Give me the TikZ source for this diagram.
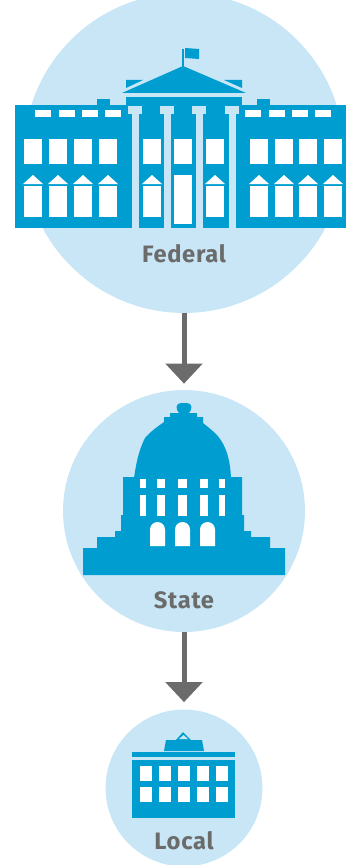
\documentclass[tikz,border=0pt]{standalone}
\usepackage{fontspec}
\setmainfont[LetterSpace=3]{Fira Sans}
\usepackage{xcolor}
\usepackage{tikz}
\usetikzlibrary{positioning, arrows.meta}
\definecolor{govBlue}{RGB}{0, 158, 208}
\definecolor{govLight}{RGB}{200, 230, 246}
\definecolor{govGray}{RGB}{107, 107, 107}
\tikzset{
    level/.style={
        circle,
        fill=govLight,
        inner sep=0pt
    },
    caption/.style={
        font=\bfseries\fontsize{13.5pt}{15pt}\selectfont,
        text=govGray,
        inner sep=0pt
    },
    flow/.style={
        -{Triangle[length=0.4cm,width=0.72cm]},
        line width=0.1cm,
        color=govGray
    },
    wall/.style={
        fill=govBlue
    },
    pane/.style={
        fill=white
    },
    pillar/.style={
        fill=govLight
    }
}
\newcommand{\winTall}[2]{% tall window with a little roof
    \fill[pane] (#1,#2) rectangle ++(18,31);
    \fill[pane] (#1-1,#2-2) -- ++(20,0) -- ++(-10,-9) -- cycle;
}
\begin{document}
\begin{tikzpicture}[x=0.02cm,y=-0.02cm]
    \useasboundingbox (0,0) rectangle (346,865);

    % Circles
    \node[level, minimum size=6.4cm] (federal) at (184,153) {};
    \node[level, minimum size=4.84cm] (state) at (184,511) {};
    \node[level, minimum size=3.14cm] (local) at (184,788) {};

    % Arrows
    \draw[flow, shorten >=0.12cm] (federal.south) -- (state.north);
    \draw[flow, shorten >=0.14cm] (state.south) -- (local.north);

    % Federal: wings
    \fill[wall] (15,105) rectangle (131,228);
    \fill[wall] (236,105) rectangle (346,228);
    \fill[wall] (97,99) rectangle (110,105);
    \fill[wall] (257,99) rectangle (270,105);
    \fill[wall] (126,97) rectangle (242,228);
    % Federal: roof and flag
    \fill[wall] (122,93) -- (183,66) -- (246,93) -- cycle;
    \fill[wall] (126,80) -- (143,80) -- (126,88) -- cycle;
    \fill[wall] (224,80) -- (242,80) -- (242,88) -- cycle;
    \fill[wall] (182,49) rectangle (184,67);
    \fill[wall] (185,48) -- (199,49) -- (199,59) -- (185,58) -- cycle;
    % Federal: columns
    \foreach \x in {128,160,192,225} {
        \fill[pillar] (\x,106) rectangle ++(14,8);
        \fill[pillar] (\x+3.5,114) rectangle ++(7,114);
    }
    % Federal: small windows
    \foreach \x in {35,59,82,105,245,269,292,315}
        \fill[pane] (\x,110) rectangle ++(16,7);
    % Federal: upper windows
    \foreach \x in {24,49,74,99,143,174,206,250,275,299,324}
        \fill[pane] (\x,139) rectangle ++(18,25);
    % Federal: lower windows
    \foreach \x in {24,49,74,99,143,206,250,275,299,324}
        \winTall{\x}{186}
    \fill[pane] (174,175) rectangle ++(18,49);

    % State: dome
    \fill[wall] (134,478) .. controls (136,465) and (138,452) .. (145,438)
        .. controls (150,432) and (157,427) .. (164,422)
        -- (164,417) -- (170,417) -- (170,413) -- (179,413)
        .. controls (175,409) and (176,403) .. (181,403)
        -- (187,403)
        .. controls (192,403) and (193,409) .. (189,413)
        -- (197,413) -- (197,417) -- (203,417) -- (203,423)
        .. controls (208,427) and (213,431) .. (217,435)
        .. controls (227,447) and (230,460) .. (231,478) -- cycle;
    % State: stepped base
    \fill[wall] (123,477) -- (242,477) -- (242,515) -- (244,515) -- (244,531)
        -- (251,531) -- (251,537) -- (270,537) -- (270,548) -- (285,548)
        -- (285,575) -- (83,575) -- (83,548) -- (97,548) -- (97,537)
        -- (115,537) -- (115,531) -- (121,531) -- (121,515) -- (123,515) -- cycle;
    % State: windows
    \foreach \x/\w in {140/6,157/8,178/9,200/8,219/6} {
        \fill[pane] (\x,479) rectangle ++(\w,9);
        \fill[pane] (\x,495) rectangle ++(\w,21);
    }
    \foreach \x in {150,175,200} {
        \fill[pane] (\x,546) -- (\x,529.5) arc[start angle=180, end angle=360, radius=7.5] -- (\x+15,546) -- cycle;
    }

    % Local: building
    \fill[wall] (132,752) rectangle (235,757);
    \fill[wall] (132,760) rectangle (235,818);
    \fill[wall] (164,751) -- (166,740) -- (176,740) -- (183,732) -- (191,740) -- (202,740) -- (204,751) -- cycle;
    \fill[pillar] (179,739) -- (183.5,735) -- (188,739) -- cycle;
    \foreach \x in {140,159,178,197,216} {
        \fill[pane] (\x,766) rectangle ++(12,15);
        \fill[pane] (\x,787) rectangle ++(12,15);
    }

    % Labels
    \node[caption] (federalText) at (184,254) {Federal};
    \node[caption] (stateText) at (184,600) {State};
    \node[caption] (localText) at (184,841) {Local};
\end{tikzpicture}
\end{document}
